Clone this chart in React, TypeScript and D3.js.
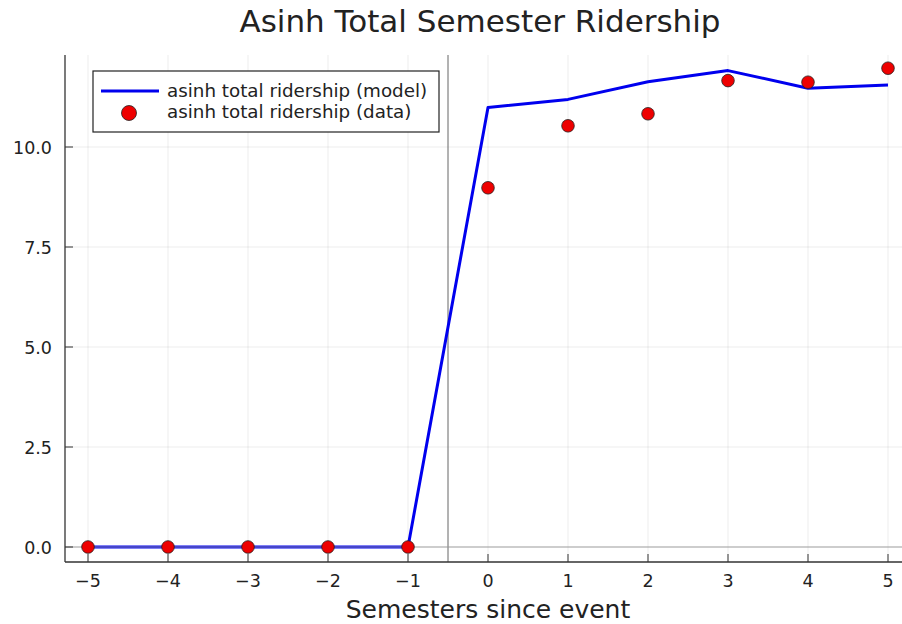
import React from "react";
import * as d3 from "d3";

const semesters = [-5, -4, -3, -2, -1, 0, 1, 2, 3, 4, 5];
const modelValues = [0, 0, 0, 0, 0, 10.99, 11.19, 11.63, 11.91, 11.47, 11.55];
const dataValues = [0, 0, 0, 0, 0, 8.98, 10.53, 10.83, 11.66, 11.62, 11.97];
const xTicks = [-5, -4, -3, -2, -1, 0, 1, 2, 3, 4, 5];
const yTicks = [0, 2.5, 5, 7.5, 10];
const eventLine = -0.5;

const W = 902;
const H = 624;
const FONT = "'DejaVu Sans', sans-serif";

export default function App() {
  const left = 65;
  const right = 902;
  const top = 55;
  const bottom = 562;
  const x = d3.scaleLinear().domain([-5.2875, 5.175]).range([left, right]);
  const y = d3.scaleLinear().domain([-0.375, 12.3]).range([bottom, top]);
  const line = d3
    .line<number>()
    .x((_, i) => x(semesters[i]))
    .y((d) => y(d));
  const fmt = (v: number) => (v < 0 ? "\u2212" + Math.abs(v) : String(v));
  return (
    <svg
      width={W}
      height={H}
      style={{ position: "absolute", left: 0, top: 0, background: "#fff" }}
      fontFamily={FONT}
    >
      <rect width={W} height={H} fill="#fff" />
      {xTicks.map((t) => (
        <line key={"gx" + t} x1={x(t)} x2={x(t)} y1={top} y2={bottom} stroke="#000" strokeOpacity={0.1} strokeWidth={0.7} />
      ))}
      {yTicks.map((t) => (
        <line key={"gy" + t} x1={left} x2={right} y1={y(t)} y2={y(t)} stroke="#000" strokeOpacity={0.1} strokeWidth={0.7} />
      ))}
      <line x1={x(eventLine)} x2={x(eventLine)} y1={top} y2={bottom} stroke="#666" strokeWidth={1} />
      <path d={line(modelValues) || ""} fill="none" stroke="#0000ee" strokeWidth={3} strokeLinejoin="round" />
      <line x1={left} x2={right} y1={y(0)} y2={y(0)} stroke="#999" strokeOpacity={0.6} strokeWidth={1.5} />
      {dataValues.map((v, i) => (
        <circle key={"p" + i} cx={x(semesters[i])} cy={y(v)} r={6.3} fill="#ee0000" stroke="#222" strokeWidth={0.8} />
      ))}
      <line x1={left} x2={left} y1={top} y2={bottom} stroke="#333" strokeWidth={1.3} />
      <line x1={left} x2={right} y1={bottom} y2={bottom} stroke="#333" strokeWidth={1.3} />
      {xTicks.map((t) => (
        <g key={"tx" + t}>
          <line x1={x(t)} x2={x(t)} y1={bottom} y2={bottom - 8} stroke="#333" strokeWidth={1} />
          <text x={x(t)} y={587} textAnchor="middle" fontSize={17.5} fill="#222">
            {fmt(t)}
          </text>
        </g>
      ))}
      {yTicks.map((t) => (
        <g key={"ty" + t}>
          <line x1={left} x2={left + 8} y1={y(t)} y2={y(t)} stroke="#333" strokeWidth={1} />
          <text x={52} y={y(t) + 6.5} textAnchor="end" fontSize={17.5} fill="#222">
            {t.toFixed(1)}
          </text>
        </g>
      ))}
      <text x={480} y={32} textAnchor="middle" fontSize={31} fill="#222">
        Asinh Total Semester Ridership
      </text>
      <text x={488} y={618} textAnchor="middle" fontSize={25} fill="#222">
        Semesters since event
      </text>
      <g>
        <rect x={93} y={71} width={346} height={61} fill="#fff" stroke="#222" strokeWidth={1.2} />
        <line x1={101} x2={159} y1={91} y2={91} stroke="#0000ee" strokeWidth={3} />
        <text x={167} y={97} fontSize={18.3} fill="#222">asinh total ridership (model)</text>
        <circle cx={129} cy={113} r={7.5} fill="#ee0000" stroke="#222" strokeWidth={0.8} />
        <text x={167} y={118} fontSize={18.3} fill="#222">asinh total ridership (data)</text>
      </g>
    </svg>
  );
}
